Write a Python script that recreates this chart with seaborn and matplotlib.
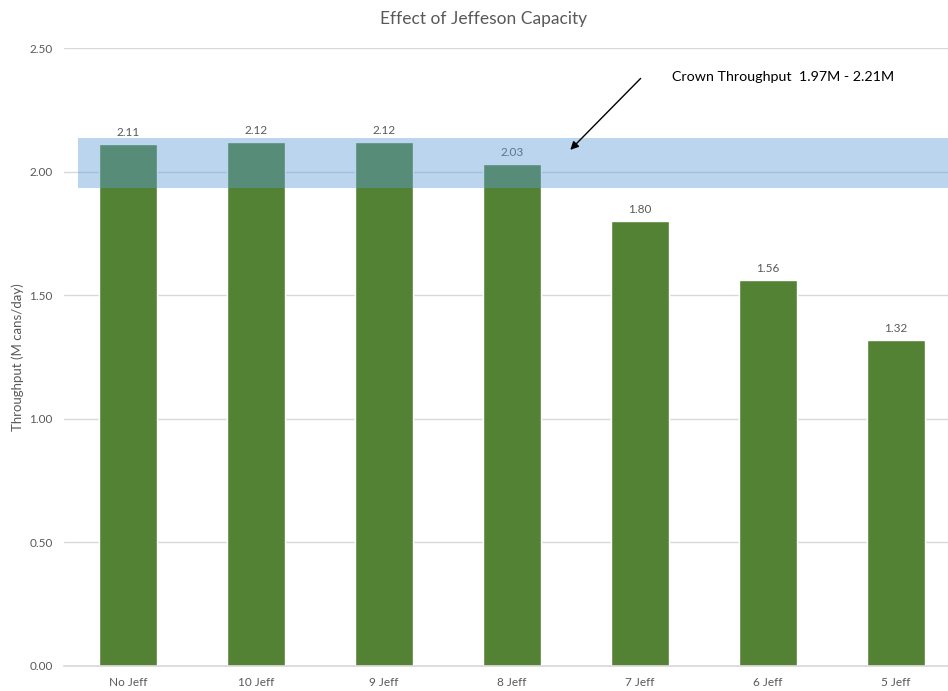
import matplotlib
matplotlib.use("Agg")
import matplotlib.pyplot as plt
import seaborn as sns
import pandas as pd

# chart data
categories = ["No Jeff", "10 Jeff", "9 Jeff", "8 Jeff", "7 Jeff", "6 Jeff", "5 Jeff"]
throughput = [2.11, 2.12, 2.12, 2.03, 1.80, 1.56, 1.32]
band_low = 1.935
band_high = 2.135
y_ticks = [0.0, 0.5, 1.0, 1.5, 2.0, 2.5]

title = "Effect of Jeffeson Capacity"
y_label = "Throughput (M cans/day)"
note = "Crown Throughput  1.97M - 2.21M"

sns.set_theme(style="white")
plt.rcParams["font.family"] = ["Lato", "DejaVu Sans"]

GREEN = "#548235"
BAND = "#5B9BD5"
GREY = "#595959"
GRID = "#d9d9d9"

df = pd.DataFrame({"config": categories, "throughput": throughput})

fig = plt.figure(figsize=(9.48, 6.91), dpi=100)
ax = fig.add_axes([0.0675, 0.0362, 1 - 0.0675, 0.9305 - 0.0362])

sns.barplot(data=df, x="config", y="throughput", color=GREEN, width=0.45,
            saturation=1, ax=ax, zorder=2)

for i, v in enumerate(throughput):
    ax.text(i, v + 0.025, f"{v:.2f}", ha="center", va="bottom",
            fontsize=8.5, color=GREY, zorder=3)

# crown throughput band, drawn over the bars
ax.axhspan(band_low, band_high, xmin=0.11 / 6.906, xmax=1.0,
           color=BAND, alpha=0.42, lw=0, zorder=4)

ax.annotate("", xy=(3.44, 2.08), xytext=(4.02, 2.385),
            arrowprops=dict(arrowstyle="-|>", color="black", lw=1,
                            mutation_scale=12), zorder=5)
ax.text(4.25, 2.383, note, ha="left", va="center", fontsize=10.3, color="black")

ax.set_xlim(-0.5, 6.406)
ax.set_ylim(0, 2.5)
ax.set_yticks(y_ticks)
ax.set_yticklabels([f"{t:.2f}" for t in y_ticks])
ax.yaxis.grid(True, color=GRID, lw=1, zorder=0)
ax.set_axisbelow(True)
for s in ["top", "right", "left"]:
    ax.spines[s].set_visible(False)
ax.spines["bottom"].set_color(GRID)
ax.tick_params(axis="both", length=0, labelsize=8.5, colors=GREY, pad=8)
ax.set_xlabel("")
ax.set_ylabel(y_label, fontsize=9.5, color=GREY, labelpad=4)

fig.text(0.51, 0.973, title, ha="center", va="center", fontsize=12.5, color=GREY)

fig.savefig("out.png", dpi=100)
